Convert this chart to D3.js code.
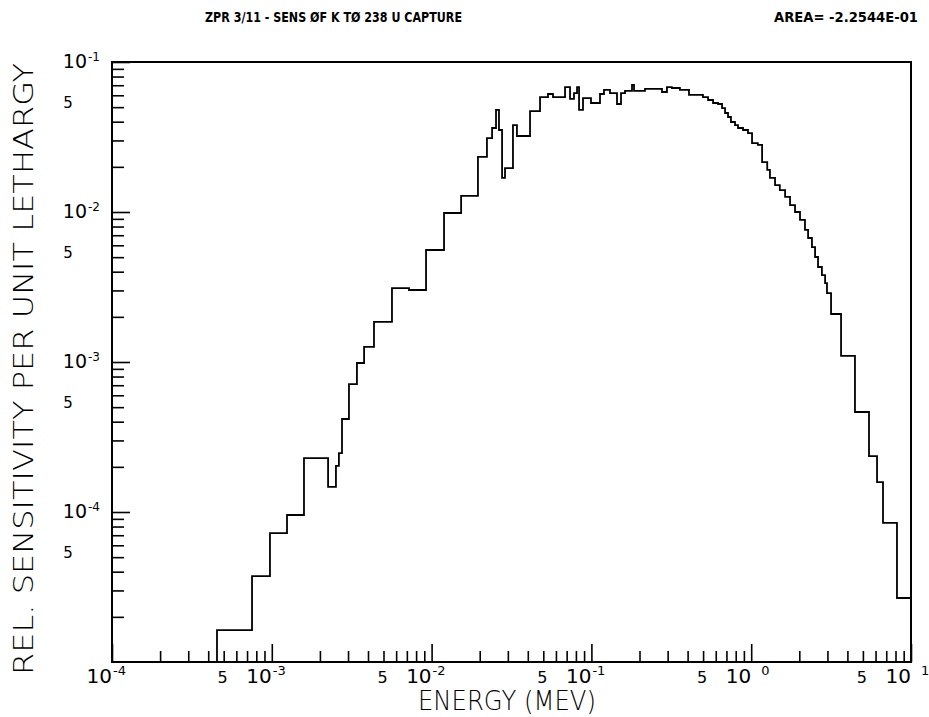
<!DOCTYPE html>
<html>
<head>
<meta charset="utf-8">
<script src="https://cdn.jsdelivr.net/npm/d3@7/dist/d3.min.js"></script>
<style>
  body { margin: 0; background: #fff; }
  svg { display: block; }
  text { font-family: "DejaVu Sans", sans-serif; fill: #000; }
  .tick line { stroke: #000; stroke-width: 1.6; }
</style>
</head>
<body>
<div id="chart"></div>
<script>
// group boundaries (MeV)
var energyEdges = [4.54e-4, 7.52e-4, 9.74e-4, 1.245e-3, 1.59e-3, 2.25e-3, 2.52e-3, 2.63e-3, 2.75e-3, 3.04e-3,
    3.41e-3, 3.78e-3, 4.36e-3, 5.65e-3, 7.22e-3, 9.23e-3, 1.196e-2, 1.53e-2, 1.95e-2, 2.22e-2,
    2.39e-2, 2.53e-2, 2.64e-2, 2.76e-2, 2.88e-2, 3.23e-2, 3.42e-2, 4.13e-2, 4.77e-2, 5.35e-2,
    5.75e-2, 6.84e-2, 7.35e-2, 7.78e-2, 8.13e-2, 8.37e-2, 8.86e-2, 9.94e-2, 0.1132, 0.1199,
    0.1307, 0.1446, 0.1532, 0.1623, 0.1795, 0.1848, 0.2165, 0.2765, 0.297, 0.319,
    0.358, 0.408, 0.499, 0.537, 0.577, 0.620, 0.657, 0.686, 0.716, 0.747,
    0.792, 0.827, 0.889, 0.955, 1.012, 1.10, 1.17, 1.26, 1.31, 1.41,
    1.51, 1.63, 1.75, 1.88, 2.02, 2.17, 2.27, 2.40, 2.51, 2.62,
    2.77, 2.90, 2.98, 3.16, 3.65, 4.46, 5.46, 6.13, 6.68, 8.17, 10];

// sensitivity per unit lethargy in each group
var sensitivity = [1.63e-5, 3.74e-5, 7.24e-5, 9.55e-5, 2.29e-4, 1.47e-4, 2.03e-4, 2.47e-4, 4.17e-4, 7.13e-4,
    9.85e-4, 1.26e-3, 1.85e-3, 3.11e-3, 3.02e-3, 5.58e-3, 9.85e-3, 1.28e-2, 2.33e-2, 3.11e-2,
    3.63e-2, 4.79e-2, 3.52e-2, 1.69e-2, 1.96e-2, 3.80e-2, 3.21e-2, 4.71e-2, 5.84e-2, 6.12e-2,
    5.84e-2, 6.81e-2, 5.67e-2, 6.21e-2, 6.81e-2, 4.79e-2, 5.75e-2, 5.33e-2, 6.12e-2, 6.51e-2,
    6.21e-2, 5.25e-2, 6.21e-2, 6.41e-2, 7.03e-2, 6.41e-2, 6.61e-2, 6.31e-2, 6.81e-2, 6.71e-2,
    6.51e-2, 6.03e-2, 5.84e-2, 5.58e-2, 5.33e-2, 5.25e-2, 4.93e-2, 4.57e-2, 4.30e-2, 3.98e-2,
    3.80e-2, 3.63e-2, 3.52e-2, 3.36e-2, 2.88e-2, 2.80e-2, 2.15e-2, 1.91e-2, 1.69e-2, 1.51e-2,
    1.40e-2, 1.26e-2, 1.11e-2, 1.00e-2, 8.85e-3, 7.59e-3, 6.71e-3, 5.84e-3, 5.01e-3, 4.30e-3,
    3.80e-3, 3.36e-3, 2.88e-3, 2.09e-3, 1.10e-3, 4.64e-4, 2.36e-4, 1.58e-4, 8.45e-5, 2.67e-5];

var xDecades = [1e-4, 1e-3, 1e-2, 1e-1, 1, 10],
    xExponents = ["-4", "-3", "-2", "-1", "0", "1"],
    xFives = [5e-4, 5e-3, 5e-2, 5e-1, 5];
var yDecades = [1e-1, 1e-2, 1e-3, 1e-4],
    yExponents = ["-1", "-2", "-3", "-4"],
    yFives = [5e-2, 5e-3, 5e-4, 5e-5];

var titleText = "ZPR 3/11 - SENS \u00D8F K T\u00D8 238 U CAPTURE",
    areaText = "AREA= -2.2544E-01",
    xLabel = "ENERGY (MEV)",
    yLabel = "REL. SENSITIVITY PER UNIT LETHARGY";

var width = 929, height = 717;
var margin = {left: 112, right: 18, top: 62, bottom: 55};

var svg = d3.select("#chart")
    .append("svg")
    .attr("width", width)
    .attr("height", height);

var x = d3.scaleLog()
    .domain([1e-4, 10])
    .range([margin.left, width - margin.right]);

var y = d3.scaleLog()
    .domain([1e-5, 1e-1])
    .range([height - margin.bottom, margin.top]);

function isDecade(v) {
    var l = Math.log10(v);
    return Math.abs(l - Math.round(l)) < 1e-6;
}

var xMinor = x.ticks().filter(v => !isDecade(v)),
    yMinor = y.ticks().filter(v => !isDecade(v));

// ticks point into the plot
function tickAxis(axis, values, size, transform) {
    var g = svg.append("g")
        .attr("transform", transform)
        .call(axis.tickValues(values).tickSize(size).tickFormat(""));
    g.select(".domain").remove();
    return g;
}
var bottomT = "translate(0," + y.range()[0] + ")",
    leftT = "translate(" + x.range()[0] + ",0)";
tickAxis(d3.axisBottom(x), xMinor, -11, bottomT);
tickAxis(d3.axisBottom(x), xDecades, -18, bottomT);
tickAxis(d3.axisLeft(y), yMinor, -12, leftT);
tickAxis(d3.axisLeft(y), yDecades, -18, leftT);

// frame
svg.append("rect")
    .attr("x", x.range()[0])
    .attr("y", y.range()[1])
    .attr("width", x.range()[1] - x.range()[0])
    .attr("height", y.range()[0] - y.range()[1])
    .attr("fill", "none")
    .attr("stroke", "#000")
    .attr("stroke-width", 2);

// step histogram
var pts = [[energyEdges[0], y.domain()[0]]];
sensitivity.forEach(function(v, i){ pts.push([energyEdges[i], v]); });
pts.push([energyEdges[energyEdges.length - 1], sensitivity[sensitivity.length - 1]]);

var line = d3.line()
    .x(d => x(d[0]))
    .y(d => y(d[1]))
    .curve(d3.curveStepAfter);

svg.append("path")
    .datum(pts)
    .attr("d", line)
    .attr("fill", "none")
    .attr("stroke", "#000")
    .attr("stroke-width", 1.8);

// x tick labels
var xl = svg.append("g").attr("class", "xlabels");
xDecades.forEach(function(d, i){
    xl.append("text")
        .attr("x", x(d))
        .attr("y", 683)
        .attr("text-anchor", "end")
        .style("font-size", "20px")
        .text("10");
    var sx = x(d) + (xExponents[i].charAt(0) == "-" ? 1 : 10);
    xl.append("text")
        .attr("x", sx)
        .attr("y", 675)
        .style("font-size", "13px")
        .text(xExponents[i]);
});
xFives.forEach(function(d){
    xl.append("text")
        .attr("x", x(d) - 1)
        .attr("y", 683)
        .attr("text-anchor", "middle")
        .style("font-size", "16px")
        .text("5");
});

// y tick labels
var yl = svg.append("g").attr("class", "ylabels");
yDecades.forEach(function(d, i){
    yl.append("text")
        .attr("x", 87)
        .attr("y", y(d) + 6)
        .attr("text-anchor", "end")
        .style("font-size", "19px")
        .text("10");
    yl.append("text")
        .attr("x", 88)
        .attr("y", y(d) - 1)
        .style("font-size", "12px")
        .text(yExponents[i]);
});
yFives.forEach(function(d){
    yl.append("text")
        .attr("x", 68)
        .attr("y", y(d) + 1)
        .attr("text-anchor", "middle")
        .style("font-size", "15px")
        .text("5");
});

// titles
svg.append("text")
    .attr("x", 205)
    .attr("y", 22)
    .attr("textLength", 257)
    .attr("lengthAdjust", "spacingAndGlyphs")
    .style("font-size", "14px")
    .style("font-weight", "bold")
    .text(titleText);

svg.append("text")
    .attr("x", 774)
    .attr("y", 22)
    .attr("textLength", 144)
    .attr("lengthAdjust", "spacingAndGlyphs")
    .style("font-size", "14px")
    .style("font-weight", "bold")
    .text(areaText);

svg.append("text")
    .attr("x", 418)
    .attr("y", 710)
    .attr("textLength", 178)
    .attr("lengthAdjust", "spacingAndGlyphs")
    .style("font-size", "26px")
    .style("font-weight", 300)
    .text(xLabel);

svg.append("text")
    .attr("transform", "translate(33,675) rotate(-90)")
    .attr("x", 0)
    .attr("y", 0)
    .attr("textLength", 612)
    .attr("lengthAdjust", "spacingAndGlyphs")
    .style("font-size", "27px")
    .style("font-weight", 300)
    .text(yLabel);
</script>
</body>
</html>
